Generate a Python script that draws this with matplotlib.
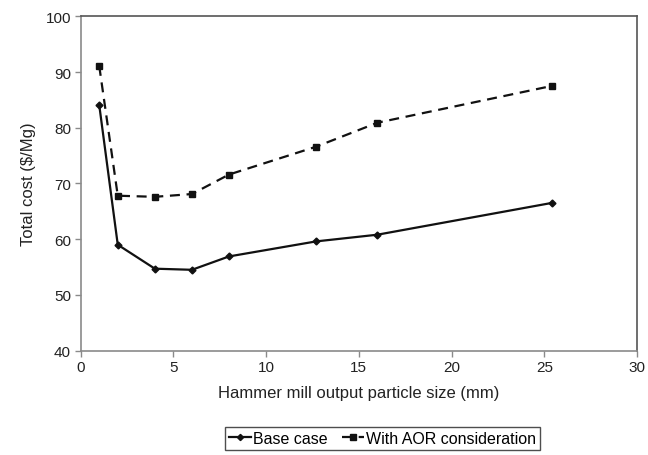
import numpy as np
import matplotlib
matplotlib.use("Agg")
import matplotlib.pyplot as plt

plt.rcParams['font.family'] = ['Liberation Sans', 'DejaVu Sans']

# Hammer mill output particle size (mm)
particle_size = [1.0, 2.0, 4.0, 6.0, 8.0, 12.7, 16.0, 25.4]
# Total cost ($/Mg)
base_case = [84.1, 59.0, 54.7, 54.5, 56.9, 59.6, 60.8, 66.5]
with_aor = [91.1, 67.8, 67.6, 68.1, 71.6, 76.6, 80.9, 87.5]

fig = plt.figure(figsize=(6.48, 4.56), dpi=100)
ax = fig.add_axes([0.1245, 0.229, 0.8585, 0.733])

ax.plot(particle_size, base_case, color='#111111', lw=1.6, marker='D', ms=3.5,
        label='Base case')
ax.plot(particle_size, with_aor, color='#111111', lw=1.6, ls=(0, (4.5, 3)),
        marker='s', ms=4.5, label='With AOR consideration')

ax.set_xlim(0, 30)
ax.set_ylim(40, 100)
ax.set_xticks(np.arange(0, 31, 5))
ax.set_yticks(np.arange(40, 101, 10))

for s in ['left', 'bottom']:
    ax.spines[s].set_color('#8a8a8a')
    ax.spines[s].set_linewidth(1.2)
for s in ['top', 'right']:
    ax.spines[s].set_color('#555555')
    ax.spines[s].set_linewidth(1.2)
ax.tick_params(direction='out', length=4, width=1, color='#8a8a8a',
               labelsize=11, labelcolor='#222222', pad=3)

ax.set_xlabel('Hammer mill output particle size (mm)', fontsize=12,
              color='#222222', labelpad=8)
ax.set_ylabel('Total cost ($/Mg)', fontsize=12, color='#222222', labelpad=7)

leg = fig.legend(loc='center', bbox_to_anchor=(0.59, 0.036), ncol=2,
                 fontsize=11.5, frameon=True, fancybox=False, handlelength=1.4,
                 handletextpad=0.1, columnspacing=0.9, borderpad=0.25,
                 markerscale=0.9)
leg.get_frame().set_edgecolor('#222222')
leg.get_frame().set_linewidth(1.0)

fig.savefig('out.png', dpi=100)
